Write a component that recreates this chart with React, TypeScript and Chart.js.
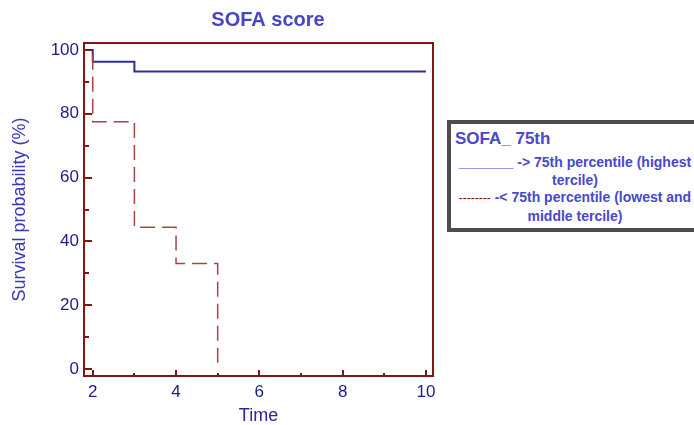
import React, { useEffect, useRef } from "react";
import { Chart, registerables } from "chart.js";

Chart.register(...registerables);

// Kaplan-Meier step data
const highTimes = [0, 2, 3, 10];
const highSurvival = [100, 96.3, 93.3, 93.3];
const lowTimes = [0, 2, 3, 4, 5];
const lowSurvival = [100, 77.5, 44.4, 33.1, 0];

const xTicks = [2, 4, 6, 8, 10];
const xMinorTicks = [3, 5, 7, 9];
const yTicks = [0, 20, 40, 60, 80, 100];
const yMinorTicks = [10, 30, 50, 70, 90];

const chartTitle = "SOFA score";
const xTitle = "Time";
const yTitle = "Survival probability (%)";
const legendTitle = "SOFA_ 75th";

const FONT = "'Liberation Sans', Arial, Helvetica, sans-serif";
const FRAME = "#821616";

const framePlugin = {
  id: "frameTicks",
  afterDraw(chart: any) {
    const { ctx, chartArea } = chart;
    const xs = chart.scales.x;
    const ys = chart.scales.y;
    ctx.save();
    ctx.strokeStyle = FRAME;
    ctx.lineWidth = 2;
    ctx.strokeRect(chartArea.left, chartArea.top, chartArea.right - chartArea.left, chartArea.bottom - chartArea.top);
    ctx.beginPath();
    xTicks.forEach((v) => {
      const px = Math.round(xs.getPixelForValue(v));
      ctx.moveTo(px, chartArea.bottom);
      ctx.lineTo(px, chartArea.bottom - 6);
    });
    xMinorTicks.forEach((v) => {
      const px = Math.round(xs.getPixelForValue(v));
      ctx.moveTo(px, chartArea.bottom);
      ctx.lineTo(px, chartArea.bottom - 3);
    });
    yTicks.forEach((v) => {
      const py = Math.round(ys.getPixelForValue(v));
      ctx.moveTo(chartArea.left, py);
      ctx.lineTo(chartArea.left + 8, py);
    });
    yMinorTicks.forEach((v) => {
      const py = Math.round(ys.getPixelForValue(v));
      ctx.moveTo(chartArea.left, py);
      ctx.lineTo(chartArea.left + 5, py);
    });
    ctx.stroke();
    ctx.restore();
  },
};

export default function App() {
  const ref = useRef<HTMLCanvasElement>(null);

  useEffect(() => {
    if (!ref.current) return;
    const chart = new Chart(ref.current, {
      type: "line",
      data: {
        datasets: [
          {
            label: "> 75th percentile (highest tercile)",
            data: highTimes.map((t, i) => ({ x: t, y: highSurvival[i] })),
            borderColor: "#2f2f9c",
            borderWidth: 2,
            stepped: true,
            pointRadius: 0,
            fill: false,
            order: 2,
          },
          {
            label: "< 75th percentile (lowest and middle tercile)",
            data: lowTimes.map((t, i) => ({ x: t, y: lowSurvival[i] })),
            borderColor: "#a84444",
            borderWidth: 1.5,
            borderDash: [15, 7],
            stepped: true,
            pointRadius: 0,
            fill: false,
            order: 1,
          },
        ],
      },
      options: {
        responsive: false,
        animation: false,
        layout: { padding: { left: 0, right: 0, top: 0, bottom: 0 } },
        plugins: {
          legend: { display: false },
          tooltip: { enabled: false },
          title: {
            display: true,
            text: chartTitle,
            color: "#4545c5",
            font: { family: FONT, size: 20, weight: "bold", lineHeight: 1.2 },
            padding: { top: 8, bottom: 11 },
          },
        },
        scales: {
          x: {
            type: "linear",
            min: 1.79,
            max: 10.17,
            grid: { display: false, drawTicks: false },
            border: { display: false },
            afterBuildTicks: (s: any) => {
              s.ticks = xTicks.map((v) => ({ value: v }));
            },
            afterFit: (s: any) => {
              s.height = 49;
            },
            ticks: {
              color: "#1c1c8a",
              font: { family: FONT, size: 17 },
              padding: 6,
              maxRotation: 0,
            },
            title: {
              display: true,
              text: xTitle,
              color: "#2a2a96",
              font: { family: FONT, size: 18, lineHeight: 1 },
              padding: { top: 0, bottom: 0 },
            },
          },
          y: {
            type: "linear",
            min: -2.2,
            max: 102.2,
            grid: { display: false, drawTicks: false },
            border: { display: false },
            afterBuildTicks: (s: any) => {
              s.ticks = yTicks.map((v) => ({ value: v }));
            },
            afterFit: (s: any) => {
              s.width = 84;
            },
            ticks: {
              color: "#1c1c8a",
              font: { family: FONT, size: 17 },
              padding: 5,
            },
            title: {
              display: true,
              text: yTitle,
              color: "#3838b8",
              font: { family: FONT, size: 18, lineHeight: 1.2 },
              padding: { top: 9, bottom: 0 },
            },
          },
          yRight: {
            type: "linear",
            position: "right",
            min: -2.2,
            max: 102.2,
            grid: { display: false, drawTicks: false },
            border: { display: false },
            ticks: { display: false },
            afterFit: (s: any) => {
              s.width = 103;
            },
          },
        },
      },
      plugins: [framePlugin],
    });
    return () => chart.destroy();
  }, []);

  const blue = "#4848cc";
  const lineStyle: React.CSSProperties = {
    position: "absolute",
    left: 0,
    width: 248,
    textAlign: "center",
    fontFamily: FONT,
    fontWeight: "bold",
    fontSize: 14,
    lineHeight: "18px",
    color: blue,
    whiteSpace: "nowrap",
  };

  return (
    <div
      style={{
        position: "absolute",
        left: 0,
        top: 0,
        width: 694,
        height: 425,
        overflow: "hidden",
        background: "#ffffff",
      }}
    >
      <canvas ref={ref} width={536} height={425} style={{ position: "absolute", left: 0, top: 0, width: 536, height: 425 }} />
      <div
        style={{
          position: "absolute",
          left: 447,
          top: 120,
          width: 256,
          height: 112,
          boxSizing: "border-box",
          border: "4px solid #4d4d4d",
          background: "#ffffff",
        }}
      >
        <div
          style={{
            position: "absolute",
            left: 4,
            top: 5,
            fontFamily: FONT,
            fontWeight: "bold",
            fontSize: 17,
            lineHeight: "20px",
            color: blue,
            whiteSpace: "nowrap",
          }}
        >
          {legendTitle}
        </div>
        <div style={{ ...lineStyle, top: 29 }}>_______ -&gt; 75th percentile (highest</div>
        <div style={{ ...lineStyle, top: 47 }}>tercile)</div>
        <div style={{ ...lineStyle, top: 64 }}>
          <span style={{ color: "#a00000", fontWeight: "normal", fontSize: 12 }}>--------</span> -&lt; 75th percentile (lowest and
        </div>
        <div style={{ ...lineStyle, top: 83 }}>middle tercile)</div>
      </div>
    </div>
  );
}
